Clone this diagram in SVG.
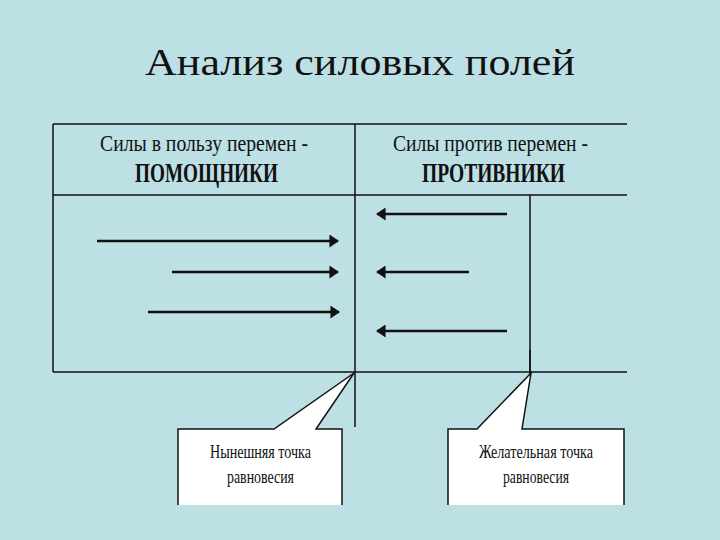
<svg xmlns="http://www.w3.org/2000/svg" width="720" height="540" viewBox="0 0 720 540">
<style>
  .bg{fill:#bde0e4}
  .rule{stroke:#111;stroke-width:1.5;fill:none}
  .arrow{stroke:#111;stroke-width:2.5;fill:none}
  .callout{fill:#fff;stroke:#111;stroke-width:1.5;stroke-linejoin:miter}
  .title{font-family:"Liberation Serif",serif;font-size:37px;fill:#111}
  .hdr{font-family:"Liberation Serif",serif;font-size:24px;fill:#111}
  .hdrb{font-family:"Liberation Serif",serif;font-size:27px;font-weight:bold;fill:#111}
  .lbl{font-family:"Liberation Serif",serif;font-size:19px;fill:#111}
</style>
<defs>
  <marker id="ah" viewBox="0 0 10 10" refX="9" refY="5" markerWidth="3.8" markerHeight="5.2" markerUnits="strokeWidth" orient="auto" preserveAspectRatio="none">
    <path d="M0,0 L10,5 L0,10 z" fill="#111"/>
  </marker>
</defs>
<rect class="bg" x="0" y="0" width="720" height="540"/>
<text class="title" x="145" y="75" textLength="430" lengthAdjust="spacingAndGlyphs">Анализ силовых полей</text>

<g id="table">
  <line class="rule" x1="53" y1="124" x2="627" y2="124"/>
  <line class="rule" x1="53" y1="195" x2="627" y2="195"/>
  <line class="rule" x1="53" y1="372" x2="627" y2="372"/>
  <line class="rule" x1="53" y1="124" x2="53" y2="372"/>
  <line class="rule" x1="355" y1="124" x2="355" y2="427"/>
  <line class="rule" x1="530" y1="195" x2="530" y2="372"/>
</g>

<g id="header-left">
  <text class="hdr" x="100" y="151" textLength="208" lengthAdjust="spacingAndGlyphs">Силы в пользу перемен -</text>
  <text class="hdrb" x="135" y="182" textLength="143" lengthAdjust="spacingAndGlyphs">ПОМОЩНИКИ</text>
</g>
<g id="header-right">
  <text class="hdr" x="393" y="151" textLength="195" lengthAdjust="spacingAndGlyphs">Силы против перемен -</text>
  <text class="hdrb" x="422" y="182" textLength="143" lengthAdjust="spacingAndGlyphs">ПРОТИВНИКИ</text>
</g>

<g id="connectors">
  <line class="arrow" x1="97" y1="241" x2="338" y2="241" marker-end="url(#ah)"/>
  <line class="arrow" x1="172" y1="272" x2="338" y2="272" stroke-width="3" marker-end="url(#ah)"/>
  <line class="arrow" x1="148" y1="312" x2="339" y2="312" marker-end="url(#ah)"/>
  <line class="arrow" x1="507" y1="214" x2="377" y2="214" marker-end="url(#ah)"/>
  <line class="arrow" x1="469" y1="272" x2="377" y2="272" stroke-width="3" marker-end="url(#ah)"/>
  <line class="arrow" x1="507" y1="331" x2="377" y2="331" marker-end="url(#ah)"/>
</g>

<g id="callout-current">
  <path class="callout" d="M178,505 L178,429 L274,429 L354,373 L316,429 L342,429 L342,505"/>
  <text class="lbl" x="260.5" y="458" text-anchor="middle" textLength="101" lengthAdjust="spacingAndGlyphs">Нынешняя точка</text>
  <text class="lbl" x="260.5" y="483" text-anchor="middle" textLength="67" lengthAdjust="spacingAndGlyphs">равновесия</text>
</g>
<g id="callout-desired">
  <path class="callout" d="M448,505 L448,429 L477,429 L531,373 L522,429 L624,429 L624,505"/>
  <line class="rule" x1="530" y1="350" x2="530" y2="375" stroke-width="2.5"/>
  <text class="lbl" x="536" y="458" text-anchor="middle" textLength="114" lengthAdjust="spacingAndGlyphs">Желательная точка</text>
  <text class="lbl" x="536" y="483" text-anchor="middle" textLength="66" lengthAdjust="spacingAndGlyphs">равновесия</text>
</g>
</svg>
